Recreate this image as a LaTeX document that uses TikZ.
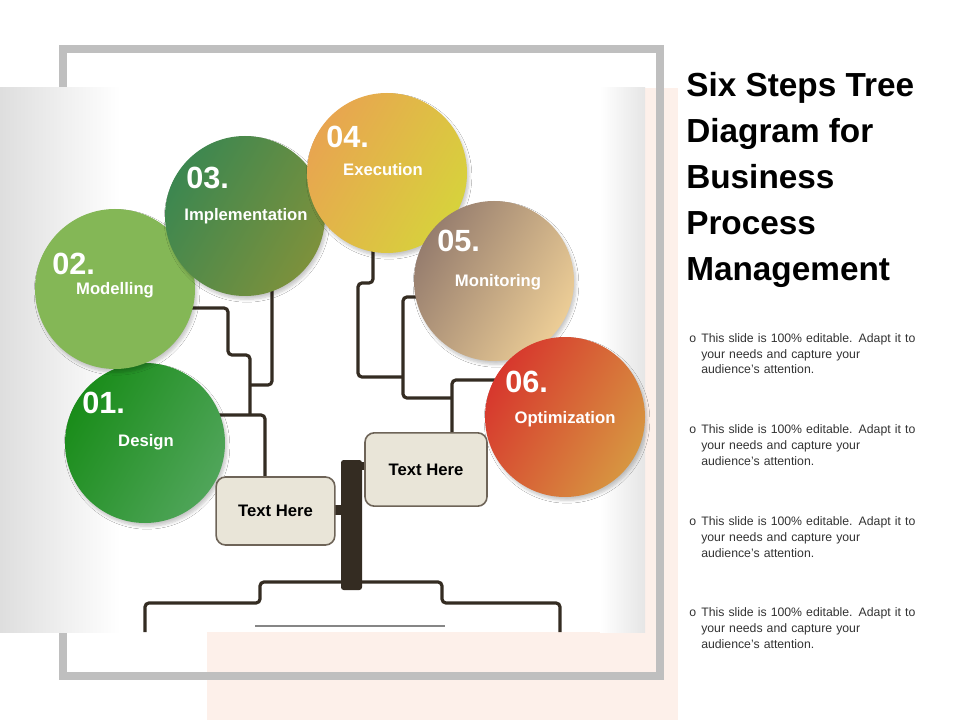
\documentclass[tikz,border=0pt]{standalone}
\usepackage{fontspec}
\setmainfont{Liberation Sans}
\usetikzlibrary{shadows.blur}
\definecolor{peach}{RGB}{253,240,234}
\definecolor{framegray}{RGB}{191,191,191}
\definecolor{branch}{RGB}{52,44,34}
\definecolor{boxfill}{RGB}{233,229,216}
\definecolor{boxline}{RGB}{110,100,88}
\tikzset{
  stepcircle/.style={circle, minimum size=120pt, inner sep=0pt, blur shadow={shadow blur steps=6, shadow xshift=1.5pt, shadow yshift=-2.5pt, shadow opacity=22}},
  stepnum/.style={text=white, font=\bfseries\fontsize{23}{23}\selectfont, anchor=west, inner sep=0pt},
  steplabel/.style={text=white, font=\bfseries\fontsize{12.5}{14}\selectfont, inner sep=0pt},
  textbox/.style={draw=boxline, line width=1.2pt, fill=boxfill, rounded corners=7pt, minimum width=89pt, minimum height=51pt, font=\bfseries\fontsize{12.5}{14}\selectfont, inner sep=0pt},
  twig/.style={draw=branch, line width=2.4pt, rounded corners=3pt},
  bullet/.style={anchor=base west, inner sep=0pt, align=left, font=\fontsize{9.2}{12}\selectfont, text=black!80, text width=175pt}
}
\begin{document}
\begin{tikzpicture}[x=0.75pt,y=0.75pt,yscale=-1,xscale=1]
\useasboundingbox (0,0) rectangle (960,720);
\fill[white] (0,0) rectangle (960,720);

% background panels
\fill[peach] (207,88) rectangle (678,720);
\draw[framegray, line width=6pt] (63,49) rectangle (660,676);
\shade[left color=black!13, right color=white] (0,88) rectangle (120,632);
\fill[white] (120,88) rectangle (600,632);
\shade[left color=white, right color=black!10] (600,88) rectangle (645,632);

% branches
\draw[twig] (145,632) -- (145,603) -- (260,603) -- (260,582) -- (442,582) -- (442,603) -- (560,603) -- (560,632);
\draw[framegray!70!black, line width=1pt] (255,626) -- (445,626);
\fill[branch, rounded corners=2pt] (341,460) rectangle (362,590);
\fill[branch] (333,505) rectangle (343,515);
\fill[branch] (360,462) rectangle (367,470);
\draw[twig] (215,415) -- (265,415) -- (265,478);
\draw[twig] (250,415) -- (250,355) -- (228,355) -- (228,308) -- (190,308);
\draw[twig] (250,385) -- (272,385) -- (272,290);
\draw[twig] (373,250) -- (373,283) -- (358,283) -- (358,377) -- (403,377);
\draw[twig] (420,297) -- (403,297) -- (403,398) -- (452,398);
\draw[twig] (452,433) -- (452,380) -- (500,380);

% circles
\node[stepcircle, shading=axis, left color=green!50!black!90, right color={rgb,255:red,80;green,165;blue,90}, shading angle=60] (design) at (145,443) {};
\node[stepcircle, fill={rgb,255:red,132;green,183;blue,86}] (modelling) at (115,289) {};
\node[stepcircle, shading=axis, left color={rgb,255:red,60;green,135;blue,80}, right color={rgb,255:red,125;green,145;blue,60}, shading angle=60] (implementation) at (245,216) {};
\node[stepcircle, shading=axis, left color={rgb,255:red,232;green,165;blue,80}, right color={rgb,255:red,215;green,210;blue,60}, shading angle=60] (execution) at (387,173) {};
\node[stepcircle, shading=axis, left color={rgb,255:red,150;green,125;blue,110}, right color={rgb,255:red,236;green,205;blue,150}, shading angle=60] (monitoring) at (494,281) {};
\node[stepcircle, shading=axis, left color={rgb,255:red,215;green,55;blue,45}, right color={rgb,255:red,215;green,150;blue,65}, shading angle=60] (optimization) at (565,417) {};

\node[stepnum] at (82,403) {01.};
\node[stepnum] at (52,264) {02.};
\node[stepnum] at (186,178) {03.};
\node[stepnum] at (326,137) {04.};
\node[stepnum] at (437,241) {05.};
\node[stepnum] at (505,382) {06.};
\node[steplabel] at (146,442) {Design};
\node[steplabel] at (115,290) {Modelling};
\node[steplabel] at (246,216) {Implementation};
\node[steplabel] at (383,170) {Execution};
\node[steplabel] at (498,282) {Monitoring};
\node[steplabel] at (565,419) {Optimization};

% text boxes
\node[textbox] (boxleft) at (275.5,511) {Text Here};
\node[textbox, minimum width=91.5pt, minimum height=55pt] (boxright) at (426,469.5) {Text Here};

% title and notes
\node[anchor=north west, inner sep=0pt, align=left, font=\bfseries\fontsize{25}{34.5}\selectfont] (title) at (686,72) {Six Steps Tree\\Diagram for\\Business\\Process\\Management};
\foreach \y in {342,433,525,616}{
  \node[anchor=base west, inner sep=0pt, font=\fontsize{9.2}{12}\selectfont, text=black!80] at (689,\y) {o};
  \node[bullet] at (701,\y) {This slide is 100\% editable. Adapt it to\\your needs and capture your\\audience's attention.};
}
\end{tikzpicture}
\end{document}
